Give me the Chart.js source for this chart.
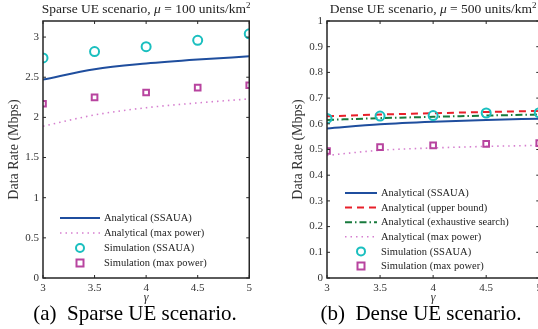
<!DOCTYPE html>
<html>
<head>
<meta charset="utf-8">
<script src="https://cdn.jsdelivr.net/npm/chart.js@4"></script>
<style>
    html, body { margin: 0; padding: 0; background: #fff; }
    body { width: 538px; height: 329px; overflow: hidden; position: relative; font-family: "Liberation Serif", serif; }
    .pane { position: absolute; top: 0; height: 305px; }
    .cap { position: absolute; top: 301px; font-size: 21px; color: #000; white-space: nowrap; transform: translateX(-50%); }
</style>
</head>
<body>
<div class="pane" style="left:0;width:256px"><canvas id="sparseChart"></canvas></div>
<div class="pane" style="left:284px;width:262px"><canvas id="denseChart"></canvas></div>
<div class="cap" style="left:135px">(a)&nbsp; Sparse UE scenario.</div>
<div class="cap" style="left:421px">(b)&nbsp; Dense UE scenario.</div>

<script>
// gamma (path loss exponent) values on the x axis
const gammaVals = [3, 3.5, 4, 4.5, 5];
const gammaTicks = [3, 3.5, 4, 4.5, 5];

// sparse UE scenario (mu = 100)
const sparseAnaSSAUA = [2.47, 2.60, 2.67, 2.72, 2.76];
const sparseAnaMaxPow = [1.89, 2.03, 2.12, 2.18, 2.23];
const sparseSimSSAUA = [2.74, 2.82, 2.88, 2.96, 3.04];
const sparseSimMaxPow = [2.17, 2.25, 2.31, 2.37, 2.40];
const sparseYTicks = [0, 0.5, 1, 1.5, 2, 2.5, 3];

// dense UE scenario (mu = 500)
const denseAnaSSAUA = [0.582, 0.598, 0.608, 0.615, 0.620];
const denseAnaUpper = [0.629, 0.636, 0.641, 0.646, 0.650];
const denseAnaExhaustive = [0.615, 0.622, 0.627, 0.632, 0.636];
const denseAnaMaxPow = [0.477, 0.497, 0.506, 0.512, 0.516];
const denseSimSSAUA = [0.621, 0.630, 0.632, 0.642, 0.643];
const denseSimMaxPow = [0.494, 0.509, 0.516, 0.522, 0.525];
const denseYTicks = [0, 0.1, 0.2, 0.3, 0.4, 0.5, 0.6, 0.7, 0.8, 0.9, 1];

const FONT = "Liberation Serif";
const AXIS = "#262626";

const pts = (arr) => gammaVals.map((g, i) => ({ x: g, y: arr[i] }));

function lineSet(label, arr, color, dash, width) {
    return {
        label, data: pts(arr), borderColor: color, borderWidth: width || 2,
        borderDash: dash || [], pointRadius: 0, fill: false,
        tension: 0.4, cubicInterpolationMode: "monotone", order: 2,
    };
}
function markSet(label, arr, color, style) {
    return {
        label, data: pts(arr), showLine: false, borderColor: color,
        backgroundColor: "rgba(255,255,255,0)", pointStyle: style,
        pointRadius: style === "rect" ? 4 : 4.5, pointBorderWidth: 2,
        pointHoverRadius: 4, order: 0,
    };
}

// box, inward ticks, title and the legend inside the plot
const framePlugin = {
    id: "frame",
    afterDraw(chart, args, opts) {
        const { ctx, chartArea: a, scales } = chart;
        ctx.save();
        ctx.strokeStyle = AXIS;
        ctx.lineWidth = 1.5;
        ctx.strokeRect(a.left, a.top, a.right - a.left, a.bottom - a.top);
        ctx.lineWidth = 1;
        scales.x.ticks.forEach(t => {
            const px = scales.x.getPixelForValue(t.value);
            ctx.beginPath();
            ctx.moveTo(px, a.bottom); ctx.lineTo(px, a.bottom - 3);
            ctx.moveTo(px, a.top); ctx.lineTo(px, a.top + 3);
            ctx.stroke();
        });
        scales.y.ticks.forEach(t => {
            const py = scales.y.getPixelForValue(t.value);
            ctx.beginPath();
            ctx.moveTo(a.left, py); ctx.lineTo(a.left + 3, py);
            ctx.moveTo(a.right, py); ctx.lineTo(a.right - 3, py);
            ctx.stroke();
        });

        // title with italic mu and superscript
        const parts = opts.title;
        let total = 0;
        parts.forEach(p => {
            ctx.font = (p.italic ? "italic " : "") + (p.sup ? 9 : 13.5) + "px " + FONT;
            p.w = ctx.measureText(p.t).width;
            total += p.w;
        });
        let x = (a.left + a.right) / 2 - total / 2;
        ctx.fillStyle = "#222";
        ctx.textBaseline = "alphabetic";
        parts.forEach(p => {
            ctx.font = (p.italic ? "italic " : "") + (p.sup ? 9 : 13.5) + "px " + FONT;
            ctx.fillText(p.t, x, p.sup ? 8 : 13);
            x += p.w;
        });

        // legend
        const lg = opts.legend;
        ctx.font = "10.5px " + FONT;
        ctx.textBaseline = "middle";
        chart.data.datasets.forEach((ds, i) => {
            const y = a.bottom - lg.bottom + i * lg.step;
            const x0 = a.left + lg.lineStart, x1 = a.left + lg.lineEnd;
            ctx.save();
            ctx.strokeStyle = ds.borderColor;
            if (ds.showLine === false) {
                ctx.lineWidth = 2;
                const cx = (x0 + x1) / 2;
                if (ds.pointStyle === "rect") {
                    ctx.strokeRect(cx - 3.5, y - 3.5, 7, 7);
                } else {
                    ctx.beginPath();
                    ctx.arc(cx, y, 4, 0, Math.PI * 2);
                    ctx.stroke();
                }
            } else {
                ctx.lineWidth = ds.borderWidth;
                ctx.setLineDash(ds.borderDash);
                ctx.beginPath();
                ctx.moveTo(x0, y); ctx.lineTo(x1, y);
                ctx.stroke();
            }
            ctx.restore();
            ctx.fillStyle = "#222";
            ctx.fillText(ds.label, a.left + lg.textStart, y + 0.5);
        });
        ctx.restore();
    },
};

function makeOptions(yMax, yTicks, padRight, frameOpts) {
    return {
        responsive: true,
        maintainAspectRatio: false,
        animation: false,
        layout: { padding: { top: 21, right: padRight, left: 0, bottom: 0 } },
        plugins: {
            legend: { display: false },
            tooltip: { enabled: false },
            frame: frameOpts,
        },
        scales: {
            x: {
                type: "linear", min: 3, max: 5,
                grid: { display: false, drawTicks: false },
                border: { display: false },
                afterBuildTicks: (s) => { s.ticks = gammaTicks.map(v => ({ value: v })); },
                afterFit: (s) => { s.height = 27; },
                ticks: { color: "#333", padding: 4, font: { family: FONT, size: 11 }, callback: v => String(v) },
                title: { display: true, text: "γ", color: "#333", padding: 0, font: { family: FONT, size: 12, style: "italic" } },
            },
            y: {
                min: 0, max: yMax,
                grid: { display: false, drawTicks: false },
                border: { display: false },
                afterBuildTicks: (s) => { s.ticks = yTicks.map(v => ({ value: v })); },
                afterFit: (s) => { s.width = 43; },
                ticks: { color: "#333", padding: 4, font: { family: FONT, size: 11 }, callback: v => String(+v.toFixed(2)) },
                title: { display: true, text: "Data Rate (Mbps)", color: "#333", padding: { top: 6, bottom: 0 }, font: { family: FONT, size: 14 } },
            },
        },
    };
}

const C_BLUE = "#1f4e9e", C_RED = "#e8202a", C_GREEN = "#177a3c";
const C_PINK = "#d67fcf", C_CYAN = "#1abfbf", C_MAG = "#b8449f";

new Chart(document.getElementById("sparseChart"), {
    type: "line",
    data: {
        datasets: [
            lineSet("Analytical (SSAUA)", sparseAnaSSAUA, C_BLUE),
            lineSet("Analytical (max power)", sparseAnaMaxPow, C_PINK, [1.5, 4], 1.6),
            markSet("Simulation (SSAUA)", sparseSimSSAUA, C_CYAN, "circle"),
            markSet("Simulation (max power)", sparseSimMaxPow, C_MAG, "rect"),
        ],
    },
    options: makeOptions(3.2, sparseYTicks, 6, {
        title: [
            { t: "Sparse UE scenario, " }, { t: "μ", italic: true },
            { t: " = 100 units/km" }, { t: "2", sup: true },
        ],
        legend: { bottom: 60, step: 15, lineStart: 17, lineEnd: 57, textStart: 61 },
    }),
    plugins: [framePlugin],
});

new Chart(document.getElementById("denseChart"), {
    type: "line",
    data: {
        datasets: [
            lineSet("Analytical (SSAUA)", denseAnaSSAUA, C_BLUE),
            lineSet("Analytical (upper bound)", denseAnaUpper, C_RED, [7, 5]),
            lineSet("Analytical (exhaustive search)", denseAnaExhaustive, C_GREEN, [7, 3, 1.5, 3]),
            lineSet("Analytical (max power)", denseAnaMaxPow, C_PINK, [1.5, 4], 1.6),
            markSet("Simulation (SSAUA)", denseSimSSAUA, C_CYAN, "circle"),
            markSet("Simulation (max power)", denseSimMaxPow, C_MAG, "rect"),
        ],
    },
    options: makeOptions(1, denseYTicks, 5, {
        title: [
            { t: "Dense UE scenario, " }, { t: "μ", italic: true },
            { t: " = 500 units/km" }, { t: "2", sup: true },
        ],
        legend: { bottom: 85, step: 14.6, lineStart: 18, lineEnd: 50, textStart: 54 },
    }),
    plugins: [framePlugin],
});
</script>
</body>
</html>
